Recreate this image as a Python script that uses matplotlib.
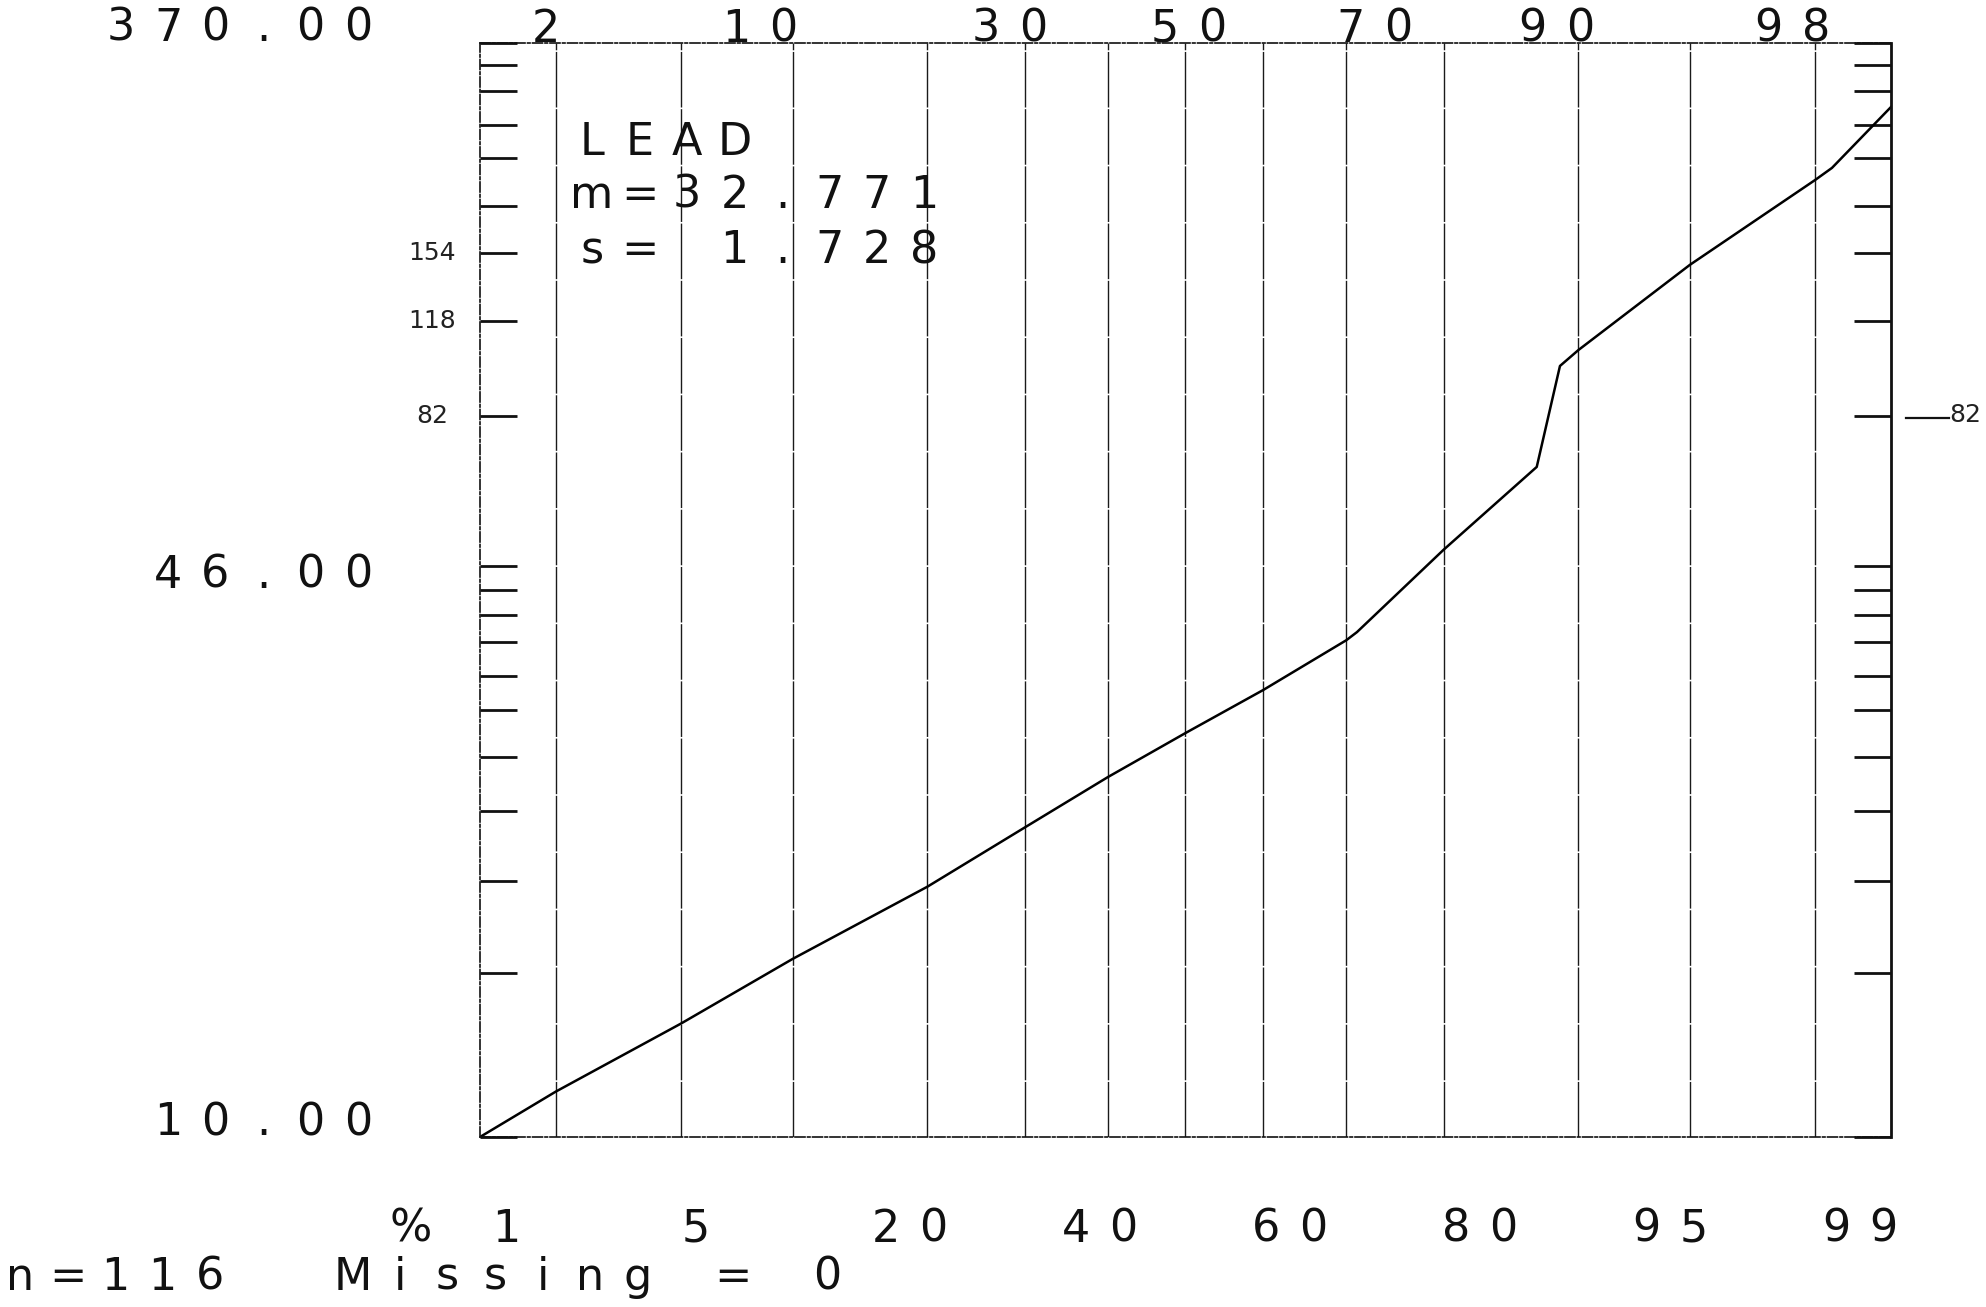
import numpy as np
import matplotlib
matplotlib.use("Agg")
import matplotlib.pyplot as plt
from matplotlib.lines import Line2D
from matplotlib.transforms import IdentityTransform
from statistics import NormalDist

# cumulative percentage vs. lead concentration along the probability curve
pct = [1.07, 2, 5, 10, 20, 30, 40, 50, 60, 70, 71.2, 80, 87.4, 88.9, 90, 95, 98, 98.25, 98.93]
lead = [10.0, 10.9, 12.6, 14.7, 17.8, 21.1, 24.6, 28.3, 32.6, 38.6, 39.7, 53.1, 71.9, 105.1, 111.7,
        155.0, 215.8, 226.2, 287.4]

grid_pct = [2, 5, 10, 20, 30, 40, 50, 60, 70, 80, 90, 95, 98]
top_pct = [2, 10, 30, 50, 70, 90, 98]
top_labels = ['2', '10', '30', '50', '70', '90', '98']
bottom_row = '% 1   5   20  40  60  80  95  99'

y_major = [10, 46, 370]
y_major_labels = ['10.00', '46.00', '370.00']
y_minor = [14.2, 18.1, 22.2, 26.2, 30.5, 34.2, 38.4, 42.1, 50.1,
           86.9, 124.8, 162.3, 194.9, 235.1, 267.6, 306.1, 339.2]

# pencil notes added on the print
notes = [(162.3, '154'), (124.8, '118'), (86.9, '82')]

title = 'LEAD'
stats = ['m=32.771', 's= 1.728']
footer = 'n=116  Missing = 0'

W, H = 1986, 1307
PITCH = 47.5
TXT = 32
INK = '#111111'
# horizontal nudge (px) of each top label centre from its grid line
TOP_NUDGE = [-10, -33, -15, 3, 28, -22, -23]

nd = NormalDist()
_inv = np.vectorize(nd.inv_cdf, otypes=[float])
_cdf = np.vectorize(nd.cdf, otypes=[float])


def prob_fwd(p):
    p = np.clip(np.asarray(p, float), 1e-4, 100 - 1e-4)
    return _inv(p / 100.0)


def prob_inv(z):
    return 100.0 * _cdf(np.asarray(z, float))


OFFSET = 5.5


def y_fwd(v):
    return np.log10(np.maximum(np.asarray(v, float) - OFFSET, 1e-6))


def y_inv(u):
    return 10 ** np.asarray(u, float) + OFFSET


fig = plt.figure(figsize=(W / 100, H / 100), dpi=100)
L, R, T, B = 480, 1891, 43, 1137
ax = fig.add_axes([L / W, 1 - B / H, (R - L) / W, (B - T) / H])
ax.set_xscale('function', functions=(prob_fwd, prob_inv))
ax.set_yscale('function', functions=(y_fwd, y_inv))
ax.set_xlim(1.07, 98.93)
ax.set_ylim(10, 370)

ax.set_xticks(grid_pct)
ax.tick_params(axis='x', length=0, labelbottom=False)
ax.grid(axis='x', color='#1a1a1a', lw=1.0, ls=(0, (40, 1.2)))

ax.set_yticks(y_major)
ax.set_yticks(y_minor, minor=True)
ax.tick_params(axis='y', which='both', direction='in', length=26.5, width=2.0,
               left=True, right=True, labelleft=False, color=INK)

for side in ['left', 'top', 'bottom']:
    ax.spines[side].set_linestyle((0, (6, 1.5, 1.5, 1.5)))
    ax.spines[side].set_linewidth(1.2)
    ax.spines[side].set_color(INK)
ax.spines['right'].set_linewidth(2.0)
ax.spines['right'].set_color(INK)

ax.plot(pct, lead, color='black', lw=1.8)


def lettering(x, y, s, anchor='first', size=TXT, **kw):
    # fixed-pitch plotter lettering: x is the centre of the first / last cell
    # or of the whole string, y the baseline, both in display pixels
    if anchor == 'last':
        x -= PITCH * (len(s) - 1)
    elif anchor == 'center':
        x -= PITCH * (len(s) - 1) / 2
    for i, ch in enumerate(s):
        if ch != ' ':
            fig.text(x + i * PITCH, y, ch, transform=IdentityTransform(),
                     ha='center', va='baseline', fontsize=size, color=INK, **kw)


def to_px(p, v):
    return ax.transData.transform((p, v))


# value scale labels
for v, lab in zip(y_major, y_major_labels):
    lettering(358, to_px(50, v)[1] + 2, lab, anchor='last')

# probability labels along the top edge
for p, lab, dx in zip(top_pct, top_labels, TOP_NUDGE):
    lettering(to_px(p, 370)[0] + dx, H - T + 1, lab, anchor='center')

lettering(411, H - 1242, bottom_row)
lettering(20, H - 1290, footer)

lettering(592, H - 155, title)
lettering(592, H - 208, stats[0])
lettering(592, H - 263, stats[1])

# pencilled values beside the ticks
for v, lab in notes:
    yv = to_px(50, v)[1]
    fig.text(L - 48, yv, lab, transform=IdentityTransform(), ha='center', va='center',
             fontsize=18, color='#222222')
y82 = to_px(50, 86.9)[1] - 2
fig.add_artist(Line2D([R + 15, R + 58], [y82, y82], transform=IdentityTransform(), color=INK, lw=1.6))
fig.text(R + 74, y82 + 3, '82', transform=IdentityTransform(), ha='center', va='center',
         fontsize=18, color='#222222')

fig.savefig('out.png', dpi=100)
